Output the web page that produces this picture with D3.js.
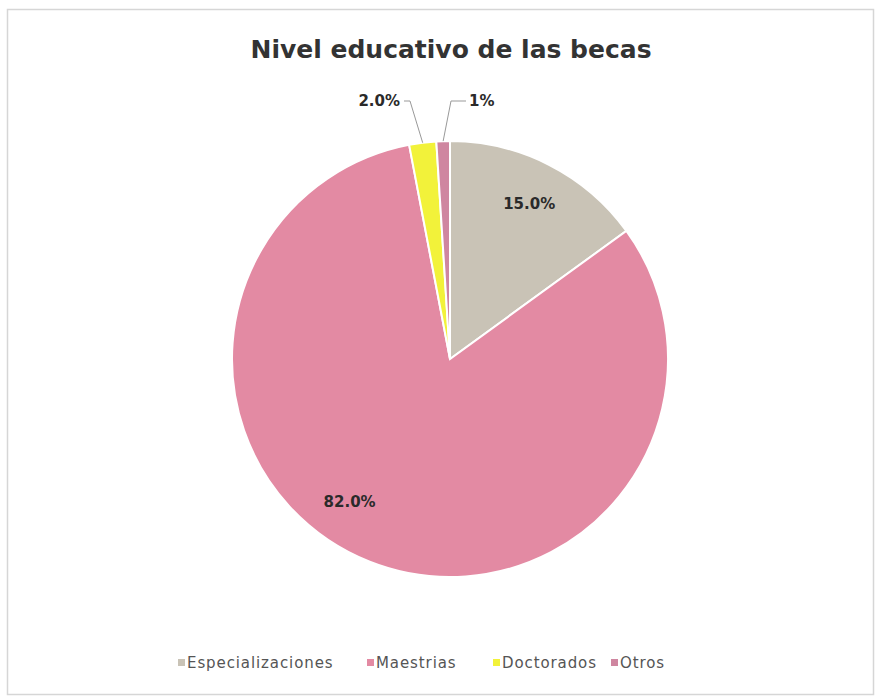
<!DOCTYPE html>
<html><head><meta charset="utf-8">
<script src="https://cdn.jsdelivr.net/npm/d3@7"></script>
<style>body{margin:0;background:#fff}svg{display:block}</style>
</head><body>
<script>
const categories = ["Especializaciones", "Maestrias", "Doctorados", "Otros"];
const values = [15.0, 82.0, 2.0, 1.0];
const labels = ["15.0%", "82.0%", "2.0%", "1%"];
const colors = ["#c9c3b6", "#e38aa3", "#f2f23a", "#cf86a0"];

const W = 878, H = 698;
const svg = d3.select("body").append("svg").attr("width", W).attr("height", H);
svg.append("rect").attr("x", 7.5).attr("y", 9.5).attr("width", 866).attr("height", 685)
  .attr("fill", "#fff").attr("stroke", "#d6d6d6").attr("stroke-width", 1.5);

svg.append("text").attr("x", 451).attr("y", 58).attr("text-anchor", "middle")
  .attr("font-family", "DejaVu Sans").attr("font-weight", "bold").attr("font-size", 25)
  .attr("fill", "#333").text("Nivel educativo de las becas");

const cx = 450, cy = 359, r = 218;
const data = categories.map((c, i) => ({cat: c, v: values[i], lab: labels[i], col: colors[i]}));
const pie = d3.pie().sort(null).value(d => d.v);
const arc = d3.arc().innerRadius(0).outerRadius(r);
const arcs = pie(data);
const g = svg.append("g").attr("transform", `translate(${cx},${cy})`);
g.selectAll("path").data(arcs).join("path").attr("d", arc)
  .attr("fill", d => d.data.col).attr("stroke", "#fff").attr("stroke-width", 2);

// inside labels
const labelFont = "DejaVu Sans";
[0, 1].forEach(i => {
  const a = arcs[i];
  let ang = (a.startAngle + a.endAngle) / 2;
  if (i === 1) ang = 3.755;
  const x = Math.sin(ang) * r * 0.8, y = -Math.cos(ang) * r * 0.8;
  g.append("text").attr("x", x).attr("y", y).attr("dy", "0.35em").attr("text-anchor", "middle")
    .attr("font-family", labelFont).attr("font-weight", "bold").attr("font-size", 15)
    .attr("fill", "#2a2a2a").text(a.data.lab);
});

// outside labels with leader lines
const outside = [
  {i: 2, lx: -50, ly: -258, anchor: "end", elbow: -40},
  {i: 3, lx: 19, ly: -258, anchor: "start", elbow: 1}
];
outside.forEach(o => {
  const a = arcs[o.i];
  const mid = (a.startAngle + a.endAngle) / 2;
  const px = Math.sin(mid) * r, py = -Math.cos(mid) * r;
  g.append("polyline")
    .attr("points", `${px},${py} ${o.elbow},${o.ly} ${o.anchor === "end" ? o.lx + 4 : o.lx - 3},${o.ly}`)
    .attr("fill", "none").attr("stroke", "#999").attr("stroke-width", 1);
  g.append("text").attr("x", o.lx).attr("y", o.ly).attr("dy", "0.35em").attr("text-anchor", o.anchor)
    .attr("font-family", labelFont).attr("font-weight", "bold").attr("font-size", 15)
    .attr("fill", "#2a2a2a").text(a.data.lab);
});

// legend
const legendX = [178, 367, 493, 611];
const lg = svg.append("g");
data.forEach((d, i) => {
  lg.append("rect").attr("x", legendX[i]).attr("y", 659).attr("width", 7).attr("height", 7).attr("fill", d.col);
  lg.append("text").attr("x", legendX[i] + 9).attr("y", 663).attr("dy", "0.35em")
    .attr("font-family", "DejaVu Sans").attr("font-size", 15).attr("letter-spacing", 0.9)
    .attr("fill", "#555").text(d.cat);
});
</script>
</body></html>
